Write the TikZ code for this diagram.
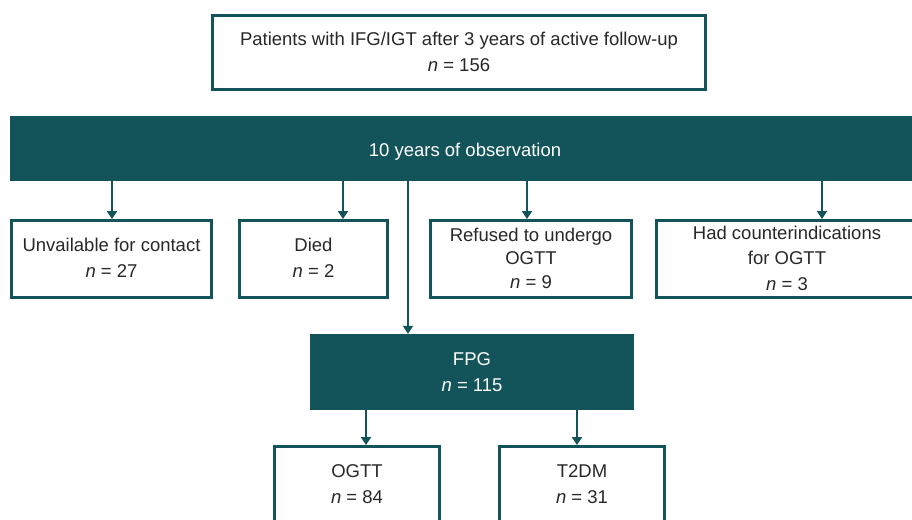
\documentclass[tikz,border=0pt]{standalone}
\usepackage{fontspec}
\setmainfont{Liberation Sans}
\usetikzlibrary{arrows.meta}
\definecolor{teal1}{RGB}{18,84,90}
\definecolor{txt}{RGB}{40,40,40}
\begin{document}
\begin{tikzpicture}[x=1pt,y=-1pt,
  every node/.style={font=\fontsize{18.5}{26}\selectfont, align=center, inner sep=0pt},
  obox/.style={draw=teal1, line width=3pt, fill=white, text=txt, text depth=1.5pt},
  fbox/.style={fill=teal1, text=white},
  arr/.style={draw=teal1, line width=2pt, -{Triangle[width=10pt,length=8pt]}}]
\useasboundingbox (0,0) rectangle (912,519);
\clip (0,0) rectangle (912,519);
\fill[white] (0,0) rectangle (912,519);
% top box
\node[obox, minimum width=493pt, minimum height=74pt] (top) at (459,52.5)
  {Patients with IFG/IGT after 3 years of active follow-up\\\textit{n} = 156};
% bar
\node[fbox, minimum width=920pt, minimum height=65pt, anchor=west] (bar) at (10,148.5) {};
\node[text=white] (bartext) at (465,151.5) {10 years of observation};
% row boxes
\node[obox, minimum width=200pt, minimum height=77pt] (b1) at (111.5,259)
  {Unvailable for contact\\\textit{n} = 27};
\node[obox, minimum width=148pt, minimum height=77pt] (b2) at (313.5,259)
  {Died\\\textit{n} = 2};
\node[obox, minimum width=201pt, minimum height=77pt, font=\fontsize{18.5}{23.5}\selectfont] (b3) at (531,259)
  {Refused to undergo\\OGTT\\\textit{n} = 9};
\node[obox, minimum width=261pt, minimum height=77pt, font=\fontsize{18.5}{25.5}\selectfont] (b4) at (787,259)
  {Had counterindications\\for OGTT\\\textit{n} = 3};
% FPG
\node[fbox, minimum width=324pt, minimum height=76pt] (fpg) at (472,372)
  {FPG\\\textit{n} = 115};
% bottom boxes
\node[obox, minimum width=165pt, minimum height=77pt] (ogtt) at (357,485)
  {OGTT\\\textit{n} = 84};
\node[obox, minimum width=165pt, minimum height=77pt] (t2dm) at (582,485)
  {T2DM\\\textit{n} = 31};
% arrows
\coordinate (a1) at (112,181);
\coordinate (a2) at (343,181);
\coordinate (a3) at (527,181);
\coordinate (a4) at (822,181);
\coordinate (a5) at (408,181);
\coordinate (a6) at (366,410);
\coordinate (a7) at (577,410);
\draw[arr] (a1) -- (a1 |- b1.north);
\draw[arr] (a2) -- (a2 |- b2.north);
\draw[arr] (a3) -- (a3 |- b3.north);
\draw[arr] (a4) -- (a4 |- b4.north);
\draw[arr] (a5) -- (a5 |- fpg.north);
\draw[arr] (a6) -- (a6 |- ogtt.north);
\draw[arr] (a7) -- (a7 |- t2dm.north);
\end{tikzpicture}
\end{document}
